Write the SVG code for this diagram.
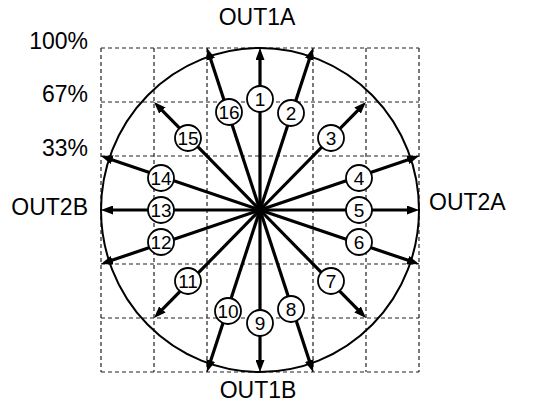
<svg xmlns="http://www.w3.org/2000/svg" width="536" height="405" viewBox="0 0 536 405">
<style>
.grid{stroke:#222;stroke-width:1.2;stroke-dasharray:4,3;fill:none}
.ring{stroke:#000;stroke-width:2;fill:none}
.arr{stroke:#000;stroke-width:3.2;fill:none;marker-end:url(#ah)}
.lab{font-family:"Liberation Sans",Arial,sans-serif;font-size:23px;fill:#000}
.node circle{fill:#fff;stroke:#000;stroke-width:1.8}
.node text{font-family:"Liberation Sans",Arial,sans-serif;font-size:19px;fill:#000;text-anchor:middle}
</style>
<defs>
<marker id="ah" markerUnits="userSpaceOnUse" markerWidth="12" markerHeight="9" refX="6" refY="4.5" orient="auto" viewBox="0 0 12 9">
<path d="M0,0 L12,4.5 L0,9 Z" fill="#000"/>
</marker>
</defs>
<rect width="536" height="405" fill="#fff"/>
<g id="grid" class="grid">
<path d="M101,48V372M154,48V372M207,48V372M260,48V372M313,48V372M366,48V372M419,48V372"/>
<path d="M101,48H419M101,102H419M101,156H419M101,210H419M101,264H419M101,318H419M101,372H419"/>
</g>
<ellipse id="ring" class="ring" cx="260" cy="210" rx="159" ry="162"/>
<g id="labels" class="lab">
<text x="257" y="25" text-anchor="middle">OUT1A</text>
<text x="258" y="398" text-anchor="middle">OUT1B</text>
<text x="429" y="210">OUT2A</text>
<text x="88" y="215" text-anchor="end">OUT2B</text>
<text x="88" y="49" text-anchor="end">100%</text>
<text x="88" y="102" text-anchor="end">67%</text>
<text x="88" y="156" text-anchor="end">33%</text>
</g>
<g id="connectors">
<line class="arr" x1="260" y1="210" x2="260" y2="54"/>
<line class="arr" x1="260" y1="210" x2="311.13" y2="53.70"/>
<line class="arr" x1="260" y1="210" x2="361.80" y2="106.28"/>
<line class="arr" x1="260" y1="210" x2="413.32" y2="157.93"/>
<line class="arr" x1="260" y1="210" x2="413" y2="210"/>
<line class="arr" x1="260" y1="210" x2="413.32" y2="262.07"/>
<line class="arr" x1="260" y1="210" x2="361.80" y2="313.72"/>
<line class="arr" x1="260" y1="210" x2="311.13" y2="366.30"/>
<line class="arr" x1="260" y1="210" x2="260" y2="366"/>
<line class="arr" x1="260" y1="210" x2="208.87" y2="366.30"/>
<line class="arr" x1="260" y1="210" x2="158.20" y2="313.72"/>
<line class="arr" x1="260" y1="210" x2="106.68" y2="262.07"/>
<line class="arr" x1="260" y1="210" x2="107" y2="210"/>
<line class="arr" x1="260" y1="210" x2="106.68" y2="157.93"/>
<line class="arr" x1="260" y1="210" x2="158.20" y2="106.28"/>
<line class="arr" x1="260" y1="210" x2="208.87" y2="53.70"/>
</g>
<g id="n1" class="node"><circle cx="260" cy="99" r="13"/><text x="260" y="105.8">1</text></g>
<g id="n2" class="node"><circle cx="291" cy="113" r="13"/><text x="291" y="119.8">2</text></g>
<g id="n3" class="node"><circle cx="331" cy="138" r="13"/><text x="331" y="144.8">3</text></g>
<g id="n4" class="node"><circle cx="359" cy="178" r="13"/><text x="359" y="184.8">4</text></g>
<g id="n5" class="node"><circle cx="359" cy="210" r="13"/><text x="359" y="216.8">5</text></g>
<g id="n6" class="node"><circle cx="359" cy="242" r="13"/><text x="359" y="248.8">6</text></g>
<g id="n7" class="node"><circle cx="331" cy="281" r="13"/><text x="331" y="287.8">7</text></g>
<g id="n8" class="node"><circle cx="291" cy="309" r="13"/><text x="291" y="315.8">8</text></g>
<g id="n9" class="node"><circle cx="260" cy="323" r="13"/><text x="260" y="329.8">9</text></g>
<g id="n10" class="node"><circle cx="228" cy="311" r="13"/><text x="228" y="317.8">10</text></g>
<g id="n11" class="node"><circle cx="188" cy="281" r="13"/><text x="188" y="287.8">11</text></g>
<g id="n12" class="node"><circle cx="161" cy="242" r="13"/><text x="161" y="248.8">12</text></g>
<g id="n13" class="node"><circle cx="161" cy="210" r="13"/><text x="161" y="216.8">13</text></g>
<g id="n14" class="node"><circle cx="161" cy="178" r="13"/><text x="161" y="184.8">14</text></g>
<g id="n15" class="node"><circle cx="188" cy="138" r="13"/><text x="188" y="144.8">15</text></g>
<g id="n16" class="node"><circle cx="229" cy="112" r="13"/><text x="229" y="118.8">16</text></g>
</svg>
